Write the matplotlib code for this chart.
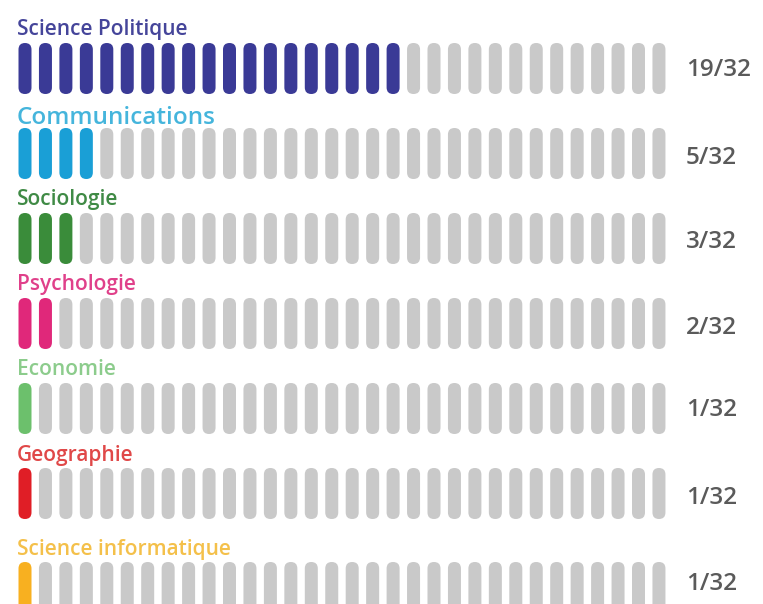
import matplotlib
matplotlib.use('Agg')
import matplotlib.pyplot as plt
from matplotlib.patches import FancyBboxPatch

# Données
disciplines = ['Science Politique', 'Communications', 'Sociologie', 'Psychologie',
               'Economie', 'Geographie', 'Science informatique']
effectifs = [19, 5, 3, 2, 1, 1, 1]          # valeurs affichées à droite
barres_colorees = [19, 4, 3, 2, 1, 1, 1]    # barres colorées dessinées (telles que dans l'original)
total = 32

couleurs_barres = ['#3a3a96', '#1a9fd6', '#3a8c3a', '#e0287a', '#6cc06c', '#e01e26', '#f8b020']
couleurs_texte = ['#45459a', '#45b5dc', '#3f8a45', '#e0408a', '#8ccc8c', '#e04848', '#f4c04a']
gris = '#c9c9c9'

# Mise en page (en pixels)
hauts_lignes = [43, 128, 213, 298, 383, 468, 562]
tailles_label = [15, 17.5, 15, 15, 15, 15, 15]
decal_label = [8, 4, 8, 8, 8, 7, 7]
decal_frac = [2, 4, 4, 4, 2, 4, -4]
hauteur_barre = 51
x0, pas, largeur = 25, 20.45, 13

plt.rcParams['font.family'] = ['Open Sans', 'DejaVu Sans']

fig = plt.figure(figsize=(7.63, 6.04), dpi=100)
ax = fig.add_axes([0, 0, 1, 1])
ax.set_xlim(0, 763)
ax.set_ylim(604, 0)
ax.axis('off')

for i, nom in enumerate(disciplines):
    haut = hauts_lignes[i]
    for k in range(total):
        cx = x0 + k * pas
        c = couleurs_barres[i] if k < barres_colorees[i] else gris
        p = FancyBboxPatch((cx - largeur / 2, haut), largeur, hauteur_barre,
                           boxstyle='round,pad=0,rounding_size=6.5',
                           fc=c, ec='none')
        ax.add_patch(p)
    ax.text(17, haut - decal_label[i], nom, color=couleurs_texte[i],
            fontsize=tailles_label[i], fontweight='semibold',
            va='baseline', ha='left')
    ax.text(686, haut + hauteur_barre / 2 + decal_frac[i], f'{effectifs[i]}/{total}',
            color='#5a5a5a', fontsize=17.5, fontweight='semibold',
            va='center', ha='left')

fig.savefig('out.png', dpi=100)
